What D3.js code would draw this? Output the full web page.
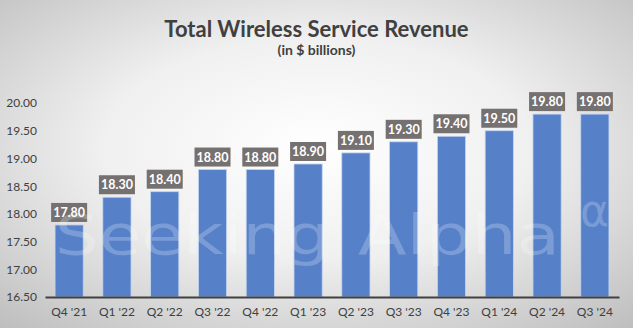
<!DOCTYPE html>
<html>
<head>
<meta charset="utf-8">
<script src="https://cdn.jsdelivr.net/npm/d3@7"></script>
<style>
  body { margin: 0; }
  svg { display: block; font-family: Lato, "Open Sans", sans-serif; }
</style>
</head>
<body>
<div id="chart"></div>
<script>
// data
var quarters = ["Q4 '21", "Q1 '22", "Q2 '22", "Q3 '22", "Q4 '22", "Q1 '23", "Q2 '23", "Q3 '23", "Q4 '23", "Q1 '24", "Q2 '24", "Q3 '24"];
var revenue = [17.80, 18.30, 18.40, 18.80, 18.80, 18.90, 19.10, 19.30, 19.40, 19.50, 19.80, 19.80];
var yTicks = [16.5, 17.0, 17.5, 18.0, 18.5, 19.0, 19.5, 20.0];

var data = quarters.map(function(q, i) { return {q: q, v: revenue[i]}; });

var svgWidth = 633;
var svgHeight = 328;
var margin = {top: 90, right: 14, bottom: 31, left: 45};
var width = svgWidth - margin.left - margin.right;
var height = svgHeight - margin.top - margin.bottom;

var svg = d3.select("#chart")
  .append("svg")
  .attr("width", svgWidth)
  .attr("height", svgHeight);

// radial background
var defs = svg.append("defs");
var grad = defs.append("radialGradient")
  .attr("id", "bg")
  .attr("cx", "50%").attr("cy", "45%").attr("r", "75%");
grad.append("stop").attr("offset", "0%").attr("stop-color", "#ffffff");
grad.append("stop").attr("offset", "45%").attr("stop-color", "#f0f0f0");
grad.append("stop").attr("offset", "100%").attr("stop-color", "#bdbdbd");

svg.append("rect")
  .attr("width", svgWidth)
  .attr("height", svgHeight)
  .attr("fill", "url(#bg)");

// titles
svg.append("text")
  .attr("x", svgWidth / 2)
  .attr("y", 37)
  .attr("text-anchor", "middle")
  .attr("font-size", 22)
  .attr("font-weight", "bold")
  .attr("fill", "#404040")
  .text("Total Wireless Service Revenue");

svg.append("text")
  .attr("x", svgWidth / 2)
  .attr("y", 55)
  .attr("text-anchor", "middle")
  .attr("font-size", 14)
  .attr("font-weight", "bold")
  .attr("fill", "#404040")
  .text("(in $ billions)");

var chartGroup = svg.append("g")
  .attr("transform", `translate(${margin.left}, ${margin.top})`);

var x = d3.scaleBand()
  .domain(quarters)
  .range([0, width])
  .paddingInner(0.41)
  .paddingOuter(0.21);

var y = d3.scaleLinear()
  .domain([16.5, 20.235])
  .range([height, 0]);

// bars
chartGroup.selectAll(".bar")
  .data(data)
  .enter()
  .append("rect")
  .attr("class", "bar")
  .attr("x", d => x(d.q))
  .attr("y", d => y(d.v))
  .attr("width", x.bandwidth())
  .attr("height", d => height - y(d.v))
  .attr("fill", "#5681c9")
  .attr("stroke", "#c5d5ee")
  .attr("stroke-width", 0.8);

// data labels
var lbl = chartGroup.selectAll(".lbl")
  .data(data)
  .enter()
  .append("g")
  .attr("class", "lbl")
  .attr("transform", d => `translate(${x(d.q) + x.bandwidth() / 2}, ${y(d.v) - 3})`);

lbl.append("rect")
  .attr("x", -18)
  .attr("y", -19)
  .attr("width", 36)
  .attr("height", 19)
  .attr("fill", "#767171");

lbl.append("text")
  .attr("x", 0)
  .attr("y", -5)
  .attr("text-anchor", "middle")
  .attr("font-size", 12.5)
  .attr("font-weight", "bold")
  .attr("fill", "#ffffff")
  .text(d => d.v.toFixed(2));

// watermark, drawn over the bars
var mark = svg.append("g")
  .attr("fill", "#ffffff")
  .attr("fill-opacity", 0.22)
  .attr("font-family", "'DejaVu Sans', sans-serif");
mark.append("text")
  .attr("x", 55)
  .attr("y", 254)
  .attr("font-size", 56)
  .attr("textLength", 275)
  .attr("lengthAdjust", "spacingAndGlyphs")
  .text("Seeking");
mark.append("text")
  .attr("x", 358)
  .attr("y", 254)
  .attr("font-size", 56)
  .attr("textLength", 202)
  .attr("lengthAdjust", "spacingAndGlyphs")
  .text("Alpha");
mark.append("text")
  .attr("x", 580)
  .attr("y", 226)
  .attr("font-size", 44)
  .text("\u03b1");

// y axis (labels only)
var leftAxis = d3.axisLeft(y)
  .tickValues(yTicks)
  .tickFormat(d3.format(".2f"))
  .tickSize(0)
  .tickPadding(8);

var yAxis = chartGroup.append("g")
  .call(leftAxis);
yAxis.select(".domain").remove();
yAxis.selectAll("text")
  .attr("font-size", 12)
  .attr("font-family", "Lato, 'Open Sans', sans-serif")
  .attr("fill", "#404040");

// x axis
var bottomAxis = d3.axisBottom(x)
  .tickSize(0)
  .tickPadding(10);

var xAxis = chartGroup.append("g")
  .attr("transform", `translate(0, ${height})`)
  .call(bottomAxis);
xAxis.select(".domain")
  .attr("stroke", "#404040")
  .attr("stroke-width", 2);
xAxis.selectAll("text")
  .attr("font-size", 12)
  .attr("font-family", "Lato, 'Open Sans', sans-serif")
  .attr("fill", "#404040");
</script>
</body>
</html>
